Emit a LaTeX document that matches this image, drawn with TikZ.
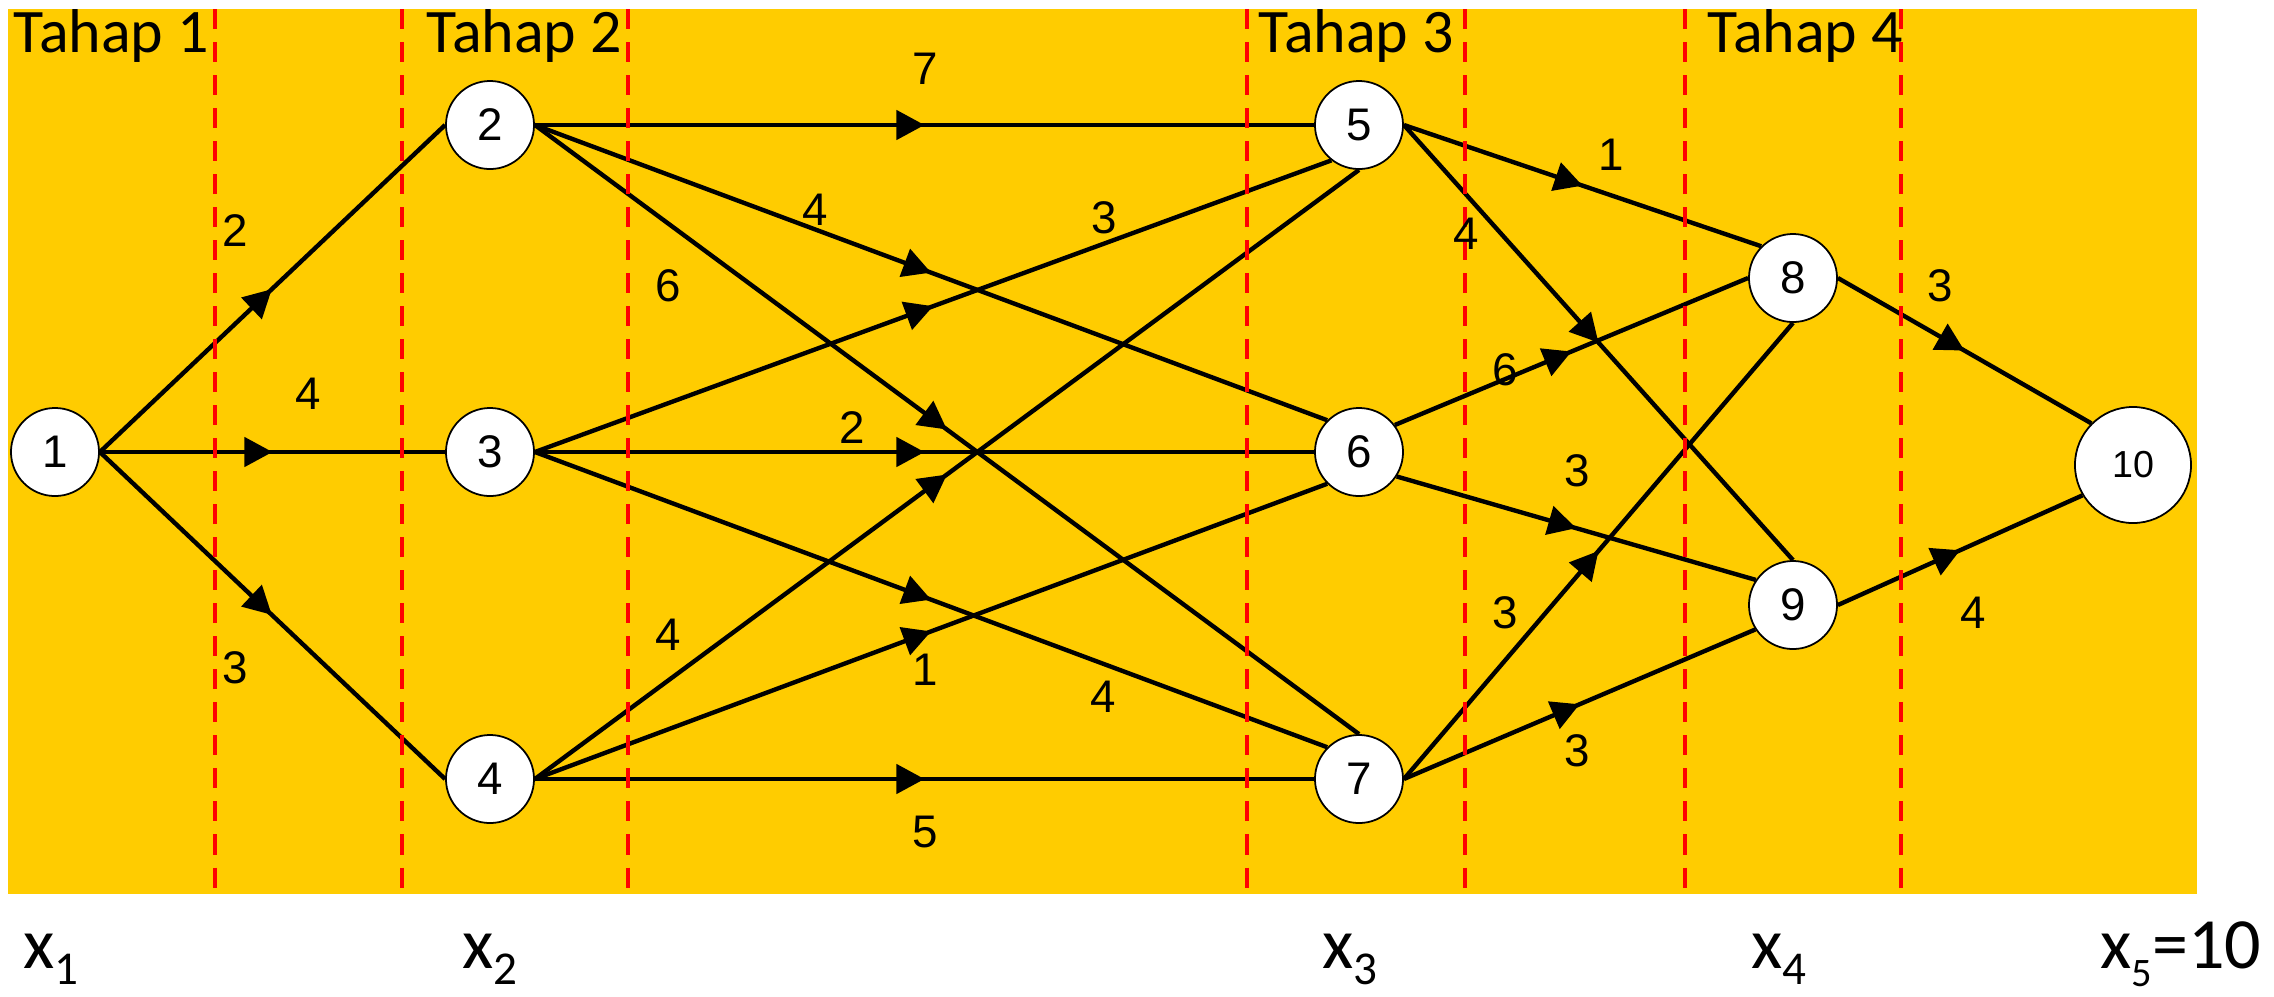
\documentclass[tikz,border=0pt]{standalone}
\usepackage{fontspec}
\setmainfont{Liberation Sans}
\newfontfamily\calib{Carlito}
\usetikzlibrary{arrows.meta,decorations.markings}
\pgfdeclarelayer{bg}
\pgfdeclarelayer{edges}
\pgfdeclarelayer{dash}
\pgfsetlayers{bg,edges,dash,main}
\begin{document}
\begin{tikzpicture}[x=0.01cm,y=-0.01cm,
  vtx/.style={circle,draw=black,line width=0.5pt,fill=white,inner sep=0pt,minimum size=0.88cm,font=\fontsize{13}{13}\selectfont},
  bigvtx/.style={vtx,minimum size=1.16cm,font=\fontsize{10.7}{11}\selectfont},
  edge/.style={line width=1.25pt,postaction={decorate},decoration={markings,mark=at position 0.5 with {\arrow{Triangle[length=0.28cm,width=0.29cm]}}}},
  wt/.style={font=\fontsize{13}{13}\selectfont,inner sep=0pt},
  stage/.style={draw=red,line width=1.4pt,dash pattern=on 0.2cm off 0.13cm},
  tahap/.style={font=\calib\fontsize{17.6}{18}\selectfont,inner sep=0pt,anchor=base west},
  xlab/.style={font=\calib\fontsize{20.5}{21}\selectfont,inner sep=0pt,anchor=base west}
]
\definecolor{bgyellow}{RGB}{255,204,0}
\useasboundingbox (0,0) rectangle (2274,996);
\begin{pgfonlayer}{bg}
\fill[bgyellow] (8,9) rectangle (2197,894);
\end{pgfonlayer}

% nodes
\node[vtx] (n1) at (55,452) {1};
\node[vtx] (n2) at (490,125) {2};
\node[vtx] (n3) at (490,452) {3};
\node[vtx] (n4) at (490,779) {4};
\node[vtx] (n5) at (1359,125) {5};
\node[vtx] (n6) at (1359,452) {6};
\node[vtx] (n7) at (1359,779) {7};
\node[vtx] (n8) at (1793,278) {8};
\node[vtx] (n9) at (1793,605) {9};
\node[bigvtx] (n10) at (2133,465) {10};

% edges
\begin{pgfonlayer}{edges}
\draw[edge] (n1.east) -- (n2.west);
\draw[edge] (n1.east) -- (n3.west);
\draw[edge] (n1.east) -- (n4.west);
\draw[edge] (n2.east) -- (n5.west);
\draw[edge] (n2.east) -- (n6.north west);
\draw[edge] (n2.east) -- (n7.north);
\draw[edge] (n3.east) -- (n5.232);
\draw[edge] (n3.east) -- (n6.west);
\draw[edge] (n3.east) -- (n7.north west);
\draw[edge] (n4.east) -- (n5.south);
\draw[edge] (n4.east) -- (n6.south west);
\draw[edge] (n4.east) -- (n7.west);
\draw[edge] (n5.east) -- (n8.north west);
\draw[edge] (n5.east) -- (n9.north);
\draw[edge] (n6.37) -- (n8.west);
\draw[edge] (n6.-33) -- (n9.146);
\draw[edge] (n7.east) -- (n8.south);
\draw[edge] (n7.east) -- (n9.213);
\draw[edge] (n8.east) -- (n10.north west);
\draw[edge] (n9.east) -- (n10.211);
\end{pgfonlayer}

% stage separators
\begin{pgfonlayer}{dash}
\foreach \xx in {215,402,628,1247,1465,1685,1901}
  \draw[stage] (\xx,9) -- (\xx,894);
\end{pgfonlayer}

% weights
\node[wt] (w12) at (235,231) {2};
\node[wt] (w13) at (308,394) {4};
\node[wt] (w14) at (235,668) {3};
\node[wt] (w25) at (925,69) {7};
\node[wt] (w26) at (815,210) {4};
\node[wt] (w27) at (668,286) {6};
\node[wt] (w35) at (1104,218) {3};
\node[wt] (w36) at (852,428) {2};
\node[wt] (w45) at (668,635) {4};
\node[wt] (w46) at (925,670) {1};
\node[wt] (w37) at (1103,697) {4};
\node[wt] (w47) at (925,832) {5};
\node[wt] (w58) at (1611,155) {1};
\node[wt] (w59) at (1466,234) {4};
\node[wt] (w68) at (1505,370) {6};
\node[wt] (w69) at (1577,471) {3};
\node[wt] (w78) at (1505,613) {3};
\node[wt] (w79) at (1577,751) {3};
\node[wt] (w810) at (1940,286) {3};
\node[wt] (w910) at (1973,613) {4};

% stage titles
\node[tahap] (t1) at (13,52) {Tahap 1};
\node[tahap] (t2) at (426,52) {Tahap 2};
\node[tahap] (t3) at (1258,52) {Tahap 3};
\node[tahap] (t4) at (1707,52) {Tahap 4};

% state variables
\node[xlab] (x1) at (23,968) {x\raisebox{-0.16cm}{\fontsize{13.4}{14}\selectfont 1}};
\node[xlab] (x2) at (462,968) {x\raisebox{-0.16cm}{\fontsize{13.4}{14}\selectfont 2}};
\node[xlab] (x3) at (1322,968) {x\raisebox{-0.16cm}{\fontsize{13.4}{14}\selectfont 3}};
\node[xlab] (x4) at (1751,968) {x\raisebox{-0.16cm}{\fontsize{13.4}{14}\selectfont 4}};
\node[xlab] (x5) at (2100,968) {x\raisebox{-0.18cm}{\fontsize{11.5}{12}\selectfont 5}=10};
\end{tikzpicture}
\end{document}
